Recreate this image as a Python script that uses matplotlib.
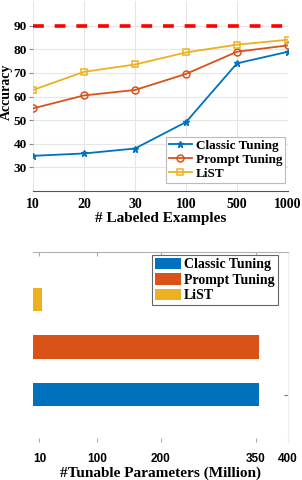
import matplotlib
matplotlib.use("Agg")
import matplotlib.pyplot as plt
import numpy as np

# ---- data ----
shots = ["10", "20", "30", "100", "500", "1000"]
classic_acc = [34.9, 35.9, 38.0, 49.2, 74.1, 79.0]
prompt_acc = [55.0, 60.5, 62.8, 69.6, 79.0, 81.7]
list_acc = [62.8, 70.5, 73.6, 78.7, 82.0, 84.1]
full_acc = 89.8

methods = ["Classic Tuning", "Prompt Tuning", "LiST"]
params = [355, 355, 14]
param_ticks = [10, 100, 200, 350, 400]

blue, orange, yellow = "#0072BD", "#D95319", "#EDB120"
serif = "Liberation Serif"
sans = "Liberation Sans"

fig = plt.figure(figsize=(3.02, 4.8), dpi=100)

# ---- top chart ----
ax = fig.add_axes([33/302, 1-191/480, 255/302, 190/480])
x = np.arange(len(shots))
ax.plot(x, classic_acc, color=blue, marker="*", ms=4.5, lw=1.3, label=methods[0], zorder=3)
ax.plot(x, prompt_acc, color=orange, marker="o", ms=5, mfc="none", mew=1.1, lw=1.3, label=methods[1], zorder=3)
ax.plot(x, list_acc, color=yellow, marker="s", ms=5, mfc="none", mew=1.1, lw=1.3, label=methods[2], zorder=3)
ax.axhline(full_acc, color="#FF0000", ls=(0, (3, 3)), lw=2.6, zorder=2)
ax.set_xlim(0, 5)
ax.set_ylim(20, 100.5)
ax.set_xticks(x)
ax.set_xticklabels(shots, fontfamily=serif, fontweight="bold", fontsize=10)
ax.set_yticks([30, 40, 50, 60, 70, 80, 90])
ax.set_yticklabels([30, 40, 50, 60, 70, 80, 90], fontfamily=serif, fontweight="bold", fontsize=9.5)
ax.grid(True, color="#e6e6e6", lw=0.8)
ax.set_axisbelow(True)
for s in ["top", "right", "left"]:
    ax.spines[s].set_visible(False)
ax.spines["bottom"].set_color("#555555")
ax.tick_params(axis="y", length=3, color="#888888", pad=1.5)
ax.tick_params(axis="x", length=0, pad=5)
ax.set_xlabel("# Labeled Examples", fontfamily=serif, fontweight="bold", fontsize=11, labelpad=1)
fig.text(0.0, 1 - 92/480, "Accuracy", rotation=90, ha="left", va="center",
         fontfamily=serif, fontweight="bold", fontsize=10)
leg = ax.legend(loc="lower right", bbox_to_anchor=(1.0, 0.03), prop={"family": serif, "weight": "bold", "size": 9.5},
                frameon=True, fancybox=False, edgecolor="#bbbbbb", framealpha=1,
                handlelength=1.8, handletextpad=0.3, borderpad=0.2, labelspacing=0.15, borderaxespad=0.2)
leg.get_frame().set_linewidth(0.8)

# ---- bottom chart ----
bx = fig.add_axes([33/302, 1-442/480, 255/302, 190/480])
ypos = [1, 2, 3]
colors = [blue, orange, yellow]
bars = bx.barh(ypos, params, height=0.5, color=colors, zorder=2)
bx.set_xlim(0, 400)
bx.set_ylim(0, 4)
bx.set_xticks(param_ticks)
bx.set_xticklabels(param_ticks, fontfamily=sans, fontweight="bold", fontsize=8.5)
bx.set_yticks([1])
bx.set_yticklabels([""])
bx.tick_params(axis="x", direction="in", top=True, bottom=True, length=3, color="#aaaaaa", pad=8)
bx.tick_params(axis="y", direction="in", left=True, right=True, length=3, color="#777777")
bx.spines["left"].set_visible(False)
bx.spines["bottom"].set_visible(False)
bx.spines["top"].set_color("#b0b0b0")
bx.spines["right"].set_color("#eeeeee")
bx.set_xlabel("#Tunable Parameters (Million)", fontfamily=serif, fontweight="bold", fontsize=11, labelpad=1)
leg2 = bx.legend(handles=list(bars)[:3], labels=methods, loc="upper right", bbox_to_anchor=(0.97, 1.0),
                 prop={"family": serif, "weight": "bold", "size": 10},
                 frameon=True, fancybox=False, edgecolor="#666666", framealpha=1,
                 handlelength=1.9, handleheight=0.9, handletextpad=0.2, borderpad=0.2,
                 labelspacing=0.15, borderaxespad=0.2)
leg2.get_frame().set_linewidth(0.8)

fig.savefig("out.png", dpi=100)
